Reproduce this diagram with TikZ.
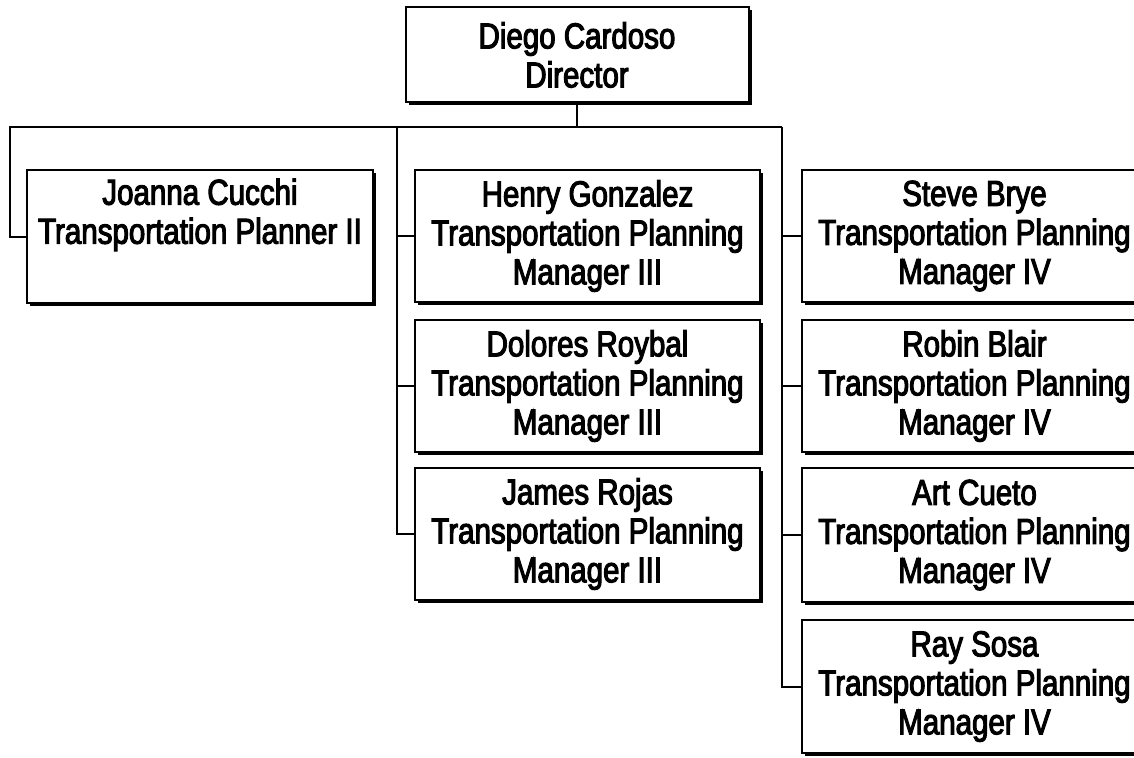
\documentclass[tikz,border=0pt]{standalone}
\usepackage{fontspec}
\setmainfont{Liberation Sans}[FakeStretch=0.82,FakeBold=3]
\usetikzlibrary{shadows}
\begin{document}
\begin{tikzpicture}[x=1pt,y=-1pt,
  box/.style={draw, fill=white, line width=2pt, inner sep=0pt, align=center,
    minimum width=345pt, minimum height=132pt,
    font=\fontsize{36}{39}\selectfont,
    drop shadow={shadow xshift=3pt, shadow yshift=-3pt, fill=black, opacity=1}},
  conn/.style={line width=2pt}]
\useasboundingbox (0,0) rectangle (1134,757);
\clip (0,0) rectangle (1134,757);
% boxes
\node[box, minimum width=343pt, minimum height=95pt] (dir) at (577,55) {Diego Cardoso\\Director};
\node[box, minimum width=346pt, minimum height=133pt] (joanna) at (200,236.5) {Joanna Cucchi\\Transportation Planner II\\\strut};
\node[box] (henry) at (587.5,236) {Henry Gonzalez\\Transportation Planning\\Manager III};
\node[box] (dolores) at (587.5,386) {Dolores Roybal\\Transportation Planning\\Manager III};
\node[box] (james) at (587.5,534) {James Rojas\\Transportation Planning\\Manager III};
\node[box] (steve) at (974.5,236) {Steve Brye\\Transportation Planning\\Manager IV};
\node[box] (robin) at (974.5,386) {Robin Blair\\Transportation Planning\\Manager IV};
\node[box, minimum height=134pt] (art) at (974.5,535) {Art Cueto\\Transportation Planning\\Manager IV};
\node[box, minimum height=133pt] (ray) at (974.5,686.5) {Ray Sosa\\Transportation Planning\\Manager IV};
% connectors
\coordinate (busL) at (10,127);
\coordinate (busM) at (397,127);
\coordinate (busR) at (782,127);
\draw[conn] (dir.south) -- (dir.south |- busL);
\draw[conn] (busR) -- (busL) |- (joanna.west);
\draw[conn] (busM) |- (henry.west);
\draw[conn] (busM) |- (dolores.west);
\draw[conn] (busM) |- (james.west);
\draw[conn] (busR) |- (steve.west);
\draw[conn] (busR) |- (robin.west);
\draw[conn] (busR) |- (art.west);
\draw[conn] (busR) |- (ray.west);
\end{tikzpicture}
\end{document}
